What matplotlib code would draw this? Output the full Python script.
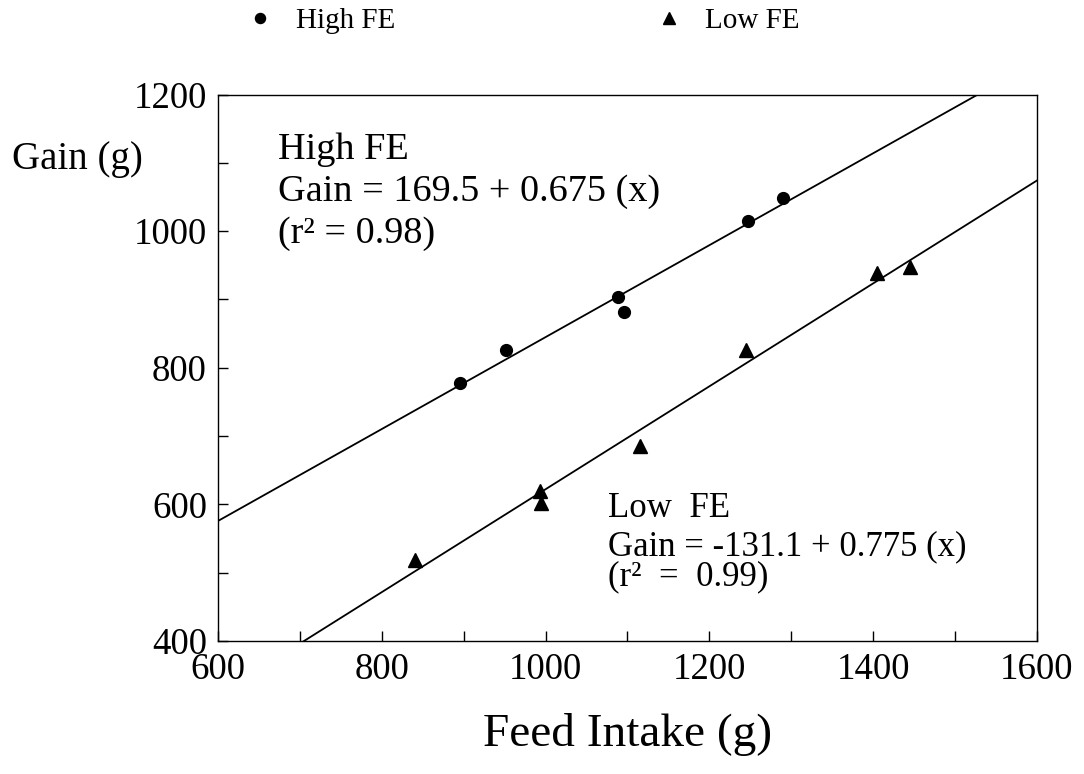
import numpy as np
import matplotlib
matplotlib.use('Agg')
import matplotlib.pyplot as plt
from matplotlib.ticker import MultipleLocator

plt.rcParams['font.family'] = ['Liberation Serif', 'DejaVu Serif']

# High FE group (circles)
high_intake = [896, 952, 1088, 1096, 1247, 1290]
high_gain = [777, 826, 903, 882, 1015, 1049]

# Low FE group (triangles)
low_intake = [841, 993, 995, 1115, 1245, 1405, 1445]
low_gain = [519, 619, 602, 685, 826, 939, 948]

high_eq = ['High FE', 'Gain = 169.5 + 0.675 (x)', '(r\u00b2 = 0.98)']
low_eq = ['Low  FE', 'Gain = -131.1 + 0.775 (x)', '(r\u00b2  =  0.99)']

fig = plt.figure(figsize=(10.84, 7.74), dpi=100)
ax = fig.add_axes([0.2011, 0.1718, 0.7555, 0.7061])

# regression lines fitted through the points
xfit = np.array([600, 1600])
for xs, ys in [(high_intake, high_gain), (low_intake, low_gain)]:
    b, a = np.polyfit(xs, ys, 1)
    ax.plot(xfit, a + b * xfit, color='black', lw=1.3)

h1, = ax.plot(high_intake, high_gain, 'o', color='black', ms=8.5, label='High FE')
h2, = ax.plot(low_intake, low_gain, '^', color='black', ms=10, label='Low FE')

ax.set_xlim(600, 1600)
ax.set_ylim(400, 1200)
ax.xaxis.set_major_locator(MultipleLocator(200))
ax.xaxis.set_minor_locator(MultipleLocator(100))
ax.yaxis.set_major_locator(MultipleLocator(200))
ax.yaxis.set_minor_locator(MultipleLocator(100))
ax.tick_params(which='both', direction='in', length=7.5, width=1,
               top=False, right=False, labelsize=26.5)
ax.tick_params(axis='x', pad=8)
ax.tick_params(axis='y', pad=8)
for s in ax.spines.values():
    s.set_linewidth(1)

# equation text
for i, t in enumerate(high_eq):
    ax.text(673, [1105, 1044, 983][i], t, fontsize=27.5, va='baseline', ha='left')
for i, t in enumerate(low_eq):
    ax.text(1076, [582, 526, 481][i], t, fontsize=25, va='baseline', ha='left')

fig.text(627.5 / 1084, 1 - 735 / 774, 'Feed Intake (g)', fontsize=34,
         ha='center', va='center')
fig.text(12 / 1084, 1 - 160 / 774, 'Gain (g)', fontsize=28,
         ha='left', va='center')

fig.legend(handles=[h1, h2], ncol=2, frameon=False, fontsize=21,
           loc='center left', bbox_to_anchor=(231 / 1084, 1 - 21 / 774),
           borderpad=0, handlelength=1.0, handletextpad=0.72,
           columnspacing=8.9, markerscale=0.85)

fig.savefig('out.png', dpi=100)
